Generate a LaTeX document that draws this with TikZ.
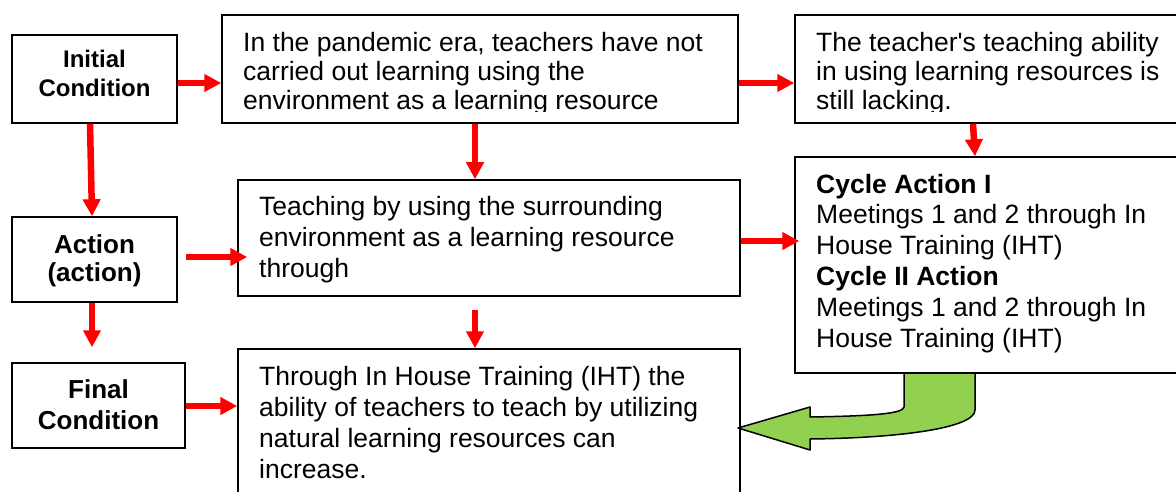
\documentclass[tikz,border=0pt]{standalone}
\usepackage{fontspec}
\setmainfont{Liberation Sans}
\usetikzlibrary{arrows.meta,calc}
\definecolor{arrowgreen}{HTML}{92D050}
\begin{document}
\begin{tikzpicture}[x=1pt,y=-1pt,
  box/.style={draw=black, line width=1.5pt, inner sep=0pt},
  txt/.style={inner sep=0pt, anchor=base west, align=left, font=\fontsize{26.5}{31}\selectfont},
  toptxt/.style={txt, font=\fontsize{26.5}{29}\selectfont},
  lbl/.style={inner sep=0pt, anchor=base, align=center, font=\bfseries\fontsize{26}{30}\selectfont},
  redarrow/.style={draw=red, line width=6.5pt, -{Triangle[length=17pt,width=17pt]}},
  bigarrow/.style={draw=black, line width=1.5pt, fill=arrowgreen, line join=round}
]
\useasboundingbox (0,0) rectangle (1176,492);

% boxes
\node[box, minimum width=165pt, minimum height=88pt]  (init)     at (94.5,79)  {};
\node[box, minimum width=516pt, minimum height=108pt] (topmid)   at (480,69)   {};
\node[box, minimum width=390pt, minimum height=108pt] (topright) at (990,69)   {};
\node[box, minimum width=165pt, minimum height=85pt]  (action)   at (94.5,259.5) {};
\node[box, minimum width=502pt, minimum height=116pt] (mid)      at (489,238)  {};
\node[box, minimum width=390pt, minimum height=216pt] (cycle)    at (990,265)  {};
\node[box, minimum width=173pt, minimum height=85pt]  (final)    at (98.5,405.5) {};
\node[box, minimum width=502pt, minimum height=151pt] (bottom)   at (489,424.5) {};

% labels (anchored at the baseline of the last line)
\node[lbl, font=\bfseries\fontsize{24}{29}\selectfont] (tinit) at (94.5,97) {Initial\\Condition};
\node[lbl, font=\bfseries\fontsize{26}{28}\selectfont] (taction) at (94.5,281) {Action\\(action)};
\node[lbl, font=\bfseries\fontsize{26}{31}\selectfont] (tfinal) at (98.5,429) {Final\\Condition};

\begin{scope}
  \clip (222,15) rectangle (1176,112);
  \node[toptxt] (ttopmid) at (243,110) {In the pandemic era, teachers have not\\carried out learning using the\\environment as a learning resource};
  \node[toptxt] (ttopright) at (816,110) {The teacher\textquotesingle s teaching ability\\in using learning resources is\\still lacking.};
\end{scope}

\node[txt] (tmid) at (259,277) {Teaching by using the surrounding\\environment as a learning resource\\through};
\node[txt, font=\fontsize{26.5}{30.8}\selectfont] (tcycle) at (816,347) {\textbf{Cycle Action I}\\Meetings 1 and 2 through In\\House Training (IHT)\\\textbf{Cycle II Action}\\Meetings 1 and 2 through In\\House Training (IHT)};
\node[txt] (tbottom) at (259,478) {Through In House Training (IHT) the\\ability of teachers to teach by utilizing\\natural learning resources can\\increase.};

% red arrows
\draw[redarrow] ($(init.east)+(0,4)$) -- ($(topmid.west)+(0,14)$);
\draw[redarrow] ($(topmid.east)+(0,14)$) -- ($(topright.west)+(0,14)$);
\draw[redarrow] ($(topright.south)+(-17,0)$) -- ($(cycle.north)+(-15,0)$);
\draw[redarrow] ($(init.south)+(-4.5,0)$) -- ($(action.north)+(-2.5,0)$);
\draw[redarrow] ($(topmid.south)+(-5,0)$) -- ($(mid.north)+(-14,0)$);
\draw[redarrow] ($(action.east)+(8,-2.5)$) -- ($(mid.west)+(10,19)$);
\draw[redarrow] ($(mid.east)+(0,3)$) -- ($(cycle.west)+(5,-24)$);
\draw[redarrow] ($(action.south)+(-2.5,0)$) -- ($(final.north)+(-6.5,-15)$);
\draw[redarrow] ($(mid.south)+(-14,13)$) -- ($(bottom.north)+(-14,0)$);
\draw[redarrow] ($(final.east)+(0,0.5)$) -- ($(bottom.west)+(0,-18.5)$);

% green curved arrow
\coordinate (gtip) at (738,428);
\draw[bigarrow] (904,373) -- (904,407) .. controls (903,414) and (870,416) .. (810,417)
  -- (810,407) -- (gtip) -- (810,450) -- (810,439)
  .. controls (900,438) and (975,428) .. (975,410) -- (975,373) -- cycle;
\end{tikzpicture}
\end{document}
